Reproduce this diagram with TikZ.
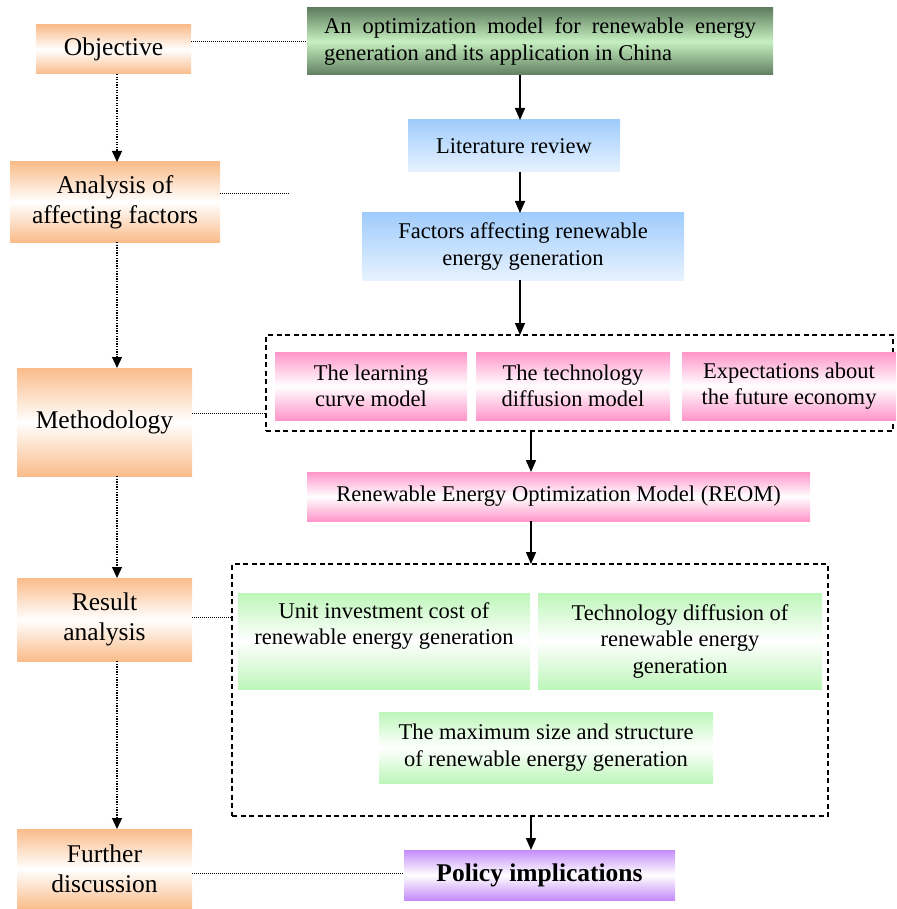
\documentclass[tikz,border=0pt]{standalone}
\usepackage{fontspec}
\setmainfont{Liberation Serif}
\usetikzlibrary{arrows.meta,calc}
\definecolor{orng}{RGB}{250,188,138}
\definecolor{pnk}{RGB}{255,150,202}
\definecolor{lgrn}{RGB}{190,246,186}
\definecolor{prpl}{RGB}{196,140,250}
\definecolor{lblu}{RGB}{160,204,252}
\definecolor{dgrn}{RGB}{96,126,96}
\definecolor{mgrn}{RGB}{198,240,192}
\begin{document}
\begin{tikzpicture}[x=1pt,y=-1pt,
  basebox/.style={inner sep=0pt, outer sep=0pt, align=center},
  lbox/.style={basebox, font=\fontsize{25.5}{30}\selectfont, top color=orng, bottom color=orng, middle color=white},
  rfont/.style={font=\fontsize{22.5}{26.5}\selectfont},
  titlebox/.style={basebox, rfont, top color=dgrn, bottom color=dgrn, middle color=mgrn},
  bluebox/.style={basebox, rfont, top color=lblu, bottom color=lblu!25},
  pinkbox/.style={basebox, rfont, top color=pnk, bottom color=pnk, middle color=white},
  grnbox/.style={basebox, rfont, top color=lgrn, bottom color=lgrn, middle color=white},
  purbox/.style={basebox, font=\fontsize{25.5}{30}\selectfont\bfseries, top color=prpl, bottom color=prpl, middle color=white},
  dashbox/.style={draw, line width=1.2pt, dash pattern=on 5pt off 3.5pt, inner sep=0pt, outer sep=0pt},
  arr/.style={line width=1.5pt, -{Triangle[width=10pt,length=12pt]}},
  dotarr/.style={line width=1.2pt, dash pattern=on 1.3pt off 1.3pt, -{Triangle[width=10pt,length=11pt]}},
  dotline/.style={line width=1pt, dash pattern=on 1pt off 1pt}
]
\useasboundingbox (0,0) rectangle (896,909);

% left column
\node[lbox, minimum width=155pt, minimum height=49pt] (obj) at (113.5,49.5) {Objective};
\node[lbox, minimum width=210pt, minimum height=80pt] (anal) at (115,202) {Analysis of\\affecting factors};
\node[lbox, minimum width=175pt, minimum height=108pt] (meth) at (104.5,422) {Methodology};
\node[lbox, minimum width=175pt, minimum height=83pt] (res) at (104.5,619.5) {Result\\analysis};
\node[lbox, minimum width=175pt, minimum height=80pt] (fur) at (104.5,869) {Further\\discussion};

% right column
\node[titlebox, minimum width=466pt, minimum height=67pt, text width=432pt, align=justify] (title) at (540,41.5)
  {An optimization model for renewable energy\linebreak generation and its application in China};
\node[bluebox, minimum width=212pt, minimum height=52pt] (lit) at (514,146) {Literature review};
\node[bluebox, minimum width=322pt, minimum height=67pt] (fac) at (523,246.5) {Factors affecting renewable\\energy generation};

\node[dashbox, minimum width=627pt, minimum height=96pt] (d1) at (579.5,383) {};
\node[pinkbox, minimum width=192pt, minimum height=68pt] (learn) at (371,386) {The learning\\curve model};
\node[pinkbox, minimum width=194pt, minimum height=68pt] (tech) at (573,386) {The technology\\diffusion model};
\node[pinkbox, minimum width=214pt, minimum height=68pt] (expe) at (789,386) {Expectations about\\the future economy};

\node[pinkbox, minimum width=503pt, minimum height=49pt] (reom) at (558.5,496.5) {Renewable Energy Optimization Model (REOM)};

\node[dashbox, minimum width=596pt, minimum height=252pt] (d2) at (530,690) {};
\node[grnbox, minimum width=292pt, minimum height=96pt] (g1) at (384,641) {Unit investment cost of\\renewable energy generation\\\strut};
\node[grnbox, minimum width=284pt, minimum height=96pt] (g2) at (680,641) {Technology diffusion of\\renewable energy\\generation};
\node[grnbox, minimum width=334pt, minimum height=71pt] (g3) at (546,747.5) {The maximum size and structure\\of renewable energy generation};

\node[purbox, minimum width=271pt, minimum height=50pt] (pol) at (539.5,875) {Policy implications};

% coordinates for connector positions
\coordinate (cl) at (117,0);
\coordinate (ca) at (520,0);
\coordinate (cb) at (531,0);
\coordinate (oy) at (0,42);
\coordinate (afe) at (290,194);
\coordinate (my) at (0,413);
\coordinate (ry) at (0,617);
\coordinate (fy) at (0,873);

% left dotted arrows
\draw[dotarr] (obj.south -| cl) -- (anal.north -| cl);
\draw[dotarr] (anal.south -| cl) -- (meth.north -| cl);
\draw[dotarr] (meth.south -| cl) -- (res.north -| cl);
\draw[dotarr] (res.south -| cl) -- (fur.north -| cl);

% dotted horizontal links
\draw[dotline] (obj.east |- oy) -- (title.west |- oy);
\draw[dotline] (anal.east |- afe) -- (afe);
\draw[dotline] (meth.east |- my) -- (d1.west |- my);
\draw[dotline] (res.east |- ry) -- (d2.west |- ry);
\draw[dotline] (fur.east |- fy) -- (pol.west |- fy);

% main flow arrows
\draw[arr] (title.south -| ca) -- (lit.north -| ca);
\draw[arr] (lit.south -| ca) -- (fac.north -| ca);
\draw[arr] (fac.south -| ca) -- (d1.north -| ca);
\draw[arr] (d1.south -| cb) -- (reom.north -| cb);
\draw[arr] (reom.south -| cb) -- (d2.north -| cb);
\draw[arr] (d2.south -| cb) -- (pol.north -| cb);
\end{tikzpicture}
\end{document}
